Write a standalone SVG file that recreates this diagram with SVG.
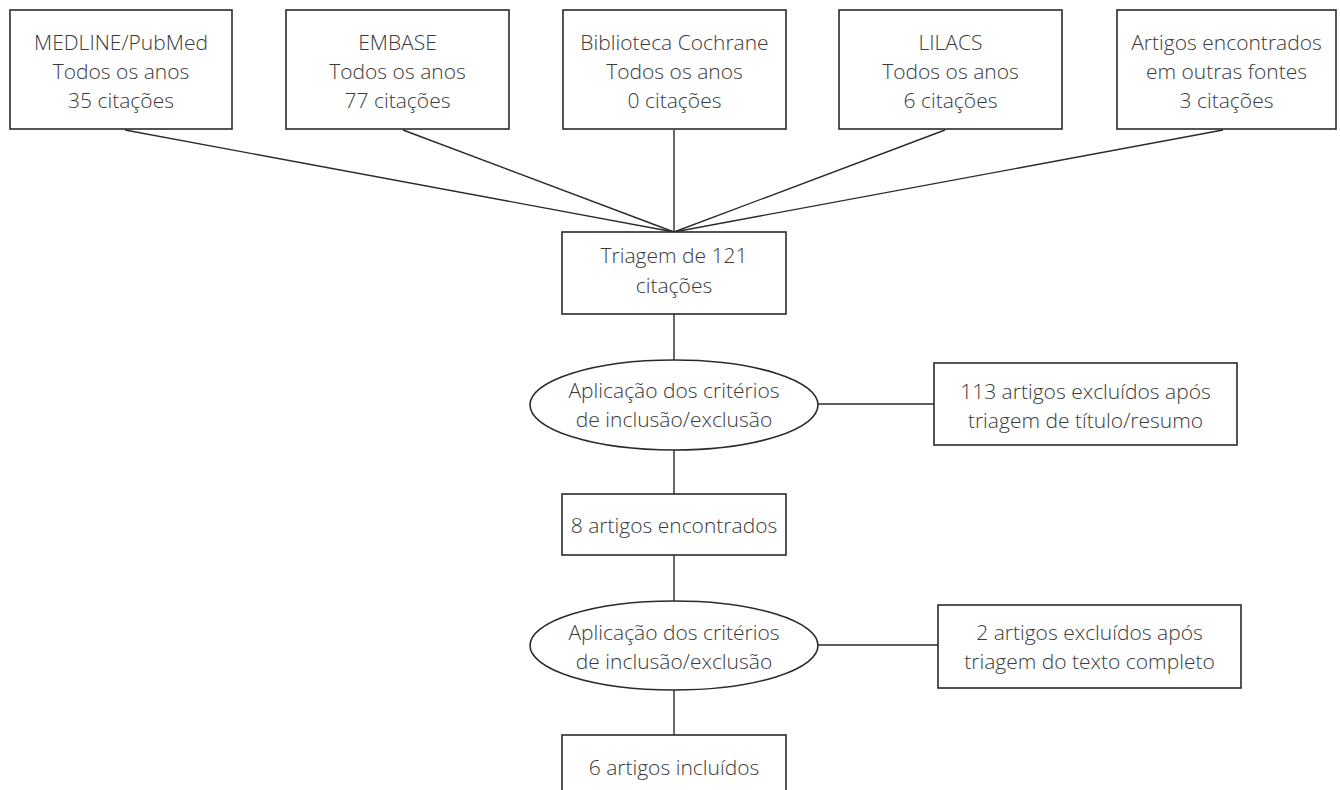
<svg xmlns="http://www.w3.org/2000/svg" width="1340" height="790" viewBox="0 0 1340 790">
<style>
.b{fill:#fff;stroke:#2a2a2a;stroke-width:1.6}
.c{fill:none;stroke:#2a2a2a;stroke-width:1.4}
text{font-family:"Open Sans","Liberation Sans",sans-serif;font-weight:300;font-size:21px;fill:#3a3a3a;text-anchor:middle}
</style>
<rect width="1340" height="790" fill="#fff"/>
<g id="connectors">
<line class="c" x1="125" y1="130" x2="674" y2="232"/>
<line class="c" x1="403" y1="130" x2="674" y2="232"/>
<line class="c" x1="674" y1="130" x2="674" y2="232"/>
<line class="c" x1="945" y1="130" x2="674" y2="232"/>
<line class="c" x1="1223" y1="130" x2="674" y2="232"/>
<line class="c" x1="674" y1="314" x2="674" y2="360"/>
<line class="c" x1="818" y1="404" x2="934" y2="404"/>
<line class="c" x1="674" y1="450" x2="674" y2="494"/>
<line class="c" x1="674" y1="555" x2="674" y2="601"/>
<line class="c" x1="818" y1="645" x2="938" y2="645"/>
<line class="c" x1="674" y1="690" x2="674" y2="735"/>
</g>
<g id="n1"><rect class="b" x="10" y="10" width="222" height="119"/><text x="121" y="50">MEDLINE/PubMed</text><text x="121" y="79">Todos os anos</text><text x="121" y="108">35 citações</text></g>
<g id="n2"><rect class="b" x="286" y="10" width="223" height="119"/><text x="397.5" y="50">EMBASE</text><text x="397.5" y="79">Todos os anos</text><text x="397.5" y="108">77 citações</text></g>
<g id="n3"><rect class="b" x="563" y="10" width="223" height="119"/><text x="674.5" y="50">Biblioteca Cochrane</text><text x="674.5" y="79">Todos os anos</text><text x="674.5" y="108">0 citações</text></g>
<g id="n4"><rect class="b" x="839" y="10" width="223" height="119"/><text x="950.5" y="50">LILACS</text><text x="950.5" y="79">Todos os anos</text><text x="950.5" y="108">6 citações</text></g>
<g id="n5"><rect class="b" x="1117" y="10" width="219" height="119"/><text x="1226.5" y="50">Artigos encontrados</text><text x="1226.5" y="79">em outras fontes</text><text x="1226.5" y="108">3 citações</text></g>
<g id="n6"><rect class="b" x="562" y="232" width="224" height="82"/><text x="674" y="263">Triagem de 121</text><text x="674" y="293">citações</text></g>
<g id="n7"><ellipse class="b" cx="674" cy="405" rx="144" ry="45"/><text x="674" y="398">Aplicação dos critérios</text><text x="674" y="427">de inclusão/exclusão</text></g>
<g id="n8"><rect class="b" x="934" y="363" width="303" height="82"/><text x="1085.5" y="399">113 artigos excluídos após</text><text x="1085.5" y="428">triagem de título/resumo</text></g>
<g id="n9"><rect class="b" x="562" y="494" width="224" height="61"/><text x="674" y="533">8 artigos encontrados</text></g>
<g id="n10"><ellipse class="b" cx="674" cy="645.5" rx="144" ry="44.5"/><text x="674" y="640">Aplicação dos critérios</text><text x="674" y="669">de inclusão/exclusão</text></g>
<g id="n11"><rect class="b" x="938" y="605" width="303" height="83"/><text x="1089.5" y="640">2 artigos excluídos após</text><text x="1089.5" y="669">triagem do texto completo</text></g>
<g id="n12"><rect class="b" x="562" y="735" width="224" height="65"/><text x="674" y="775">6 artigos incluídos</text></g>
</svg>
